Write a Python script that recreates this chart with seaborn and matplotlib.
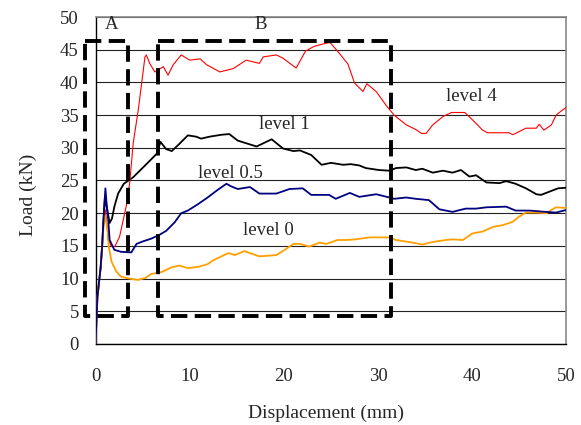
import numpy as np
import pandas as pd
import matplotlib
matplotlib.use("Agg")
import matplotlib.pyplot as plt
import seaborn as sns

# level 4 (red)
x_l4 = [0, 0.1, 0.2, 0.4, 0.55, 0.7, 0.85, 1.05, 1.35, 1.7, 2.05, 2.55, 3.1, 3.4, 3.66,
        4.0, 4.54, 4.9, 5.25, 5.4, 5.75, 6.3, 7.2, 7.7, 8.25, 9.1, 10.0, 11.1, 11.8, 13.2,
        14.6, 16.0, 17.4, 17.8, 19.2, 19.9, 21.3, 22.3, 23.2, 24.5, 24.9, 25.8, 26.8, 27.5,
        28.4, 28.8, 29.8, 30.9, 31.7, 33.0, 34.0, 34.6, 35.1, 35.8, 36.9, 37.8, 39.2, 40.0,
        41.1, 41.6, 43.9, 44.3, 45.7, 46.8, 47.1, 47.6, 48.4, 48.9, 49.6, 50]
y_l4 = [0, 3.7, 7.2, 9.8, 11.8, 14.9, 19, 20.5, 15.9, 14.9, 14.9, 16.4, 20, 22, 25.1,
        30.7, 35.8, 39.9, 43.9, 44.2, 42.9, 41.6, 42.4, 41.1, 42.7, 44.2, 43.4, 43.6, 42.7, 41.6,
        42.1, 43.4, 42.9, 43.9, 44.2, 43.7, 42.2, 44.8, 45.5, 46.0, 46.1, 44.6, 42.8, 39.9,
        38.6, 39.8, 38.6, 36.4, 35.0, 33.5, 32.8, 32.2, 32.2, 33.5, 34.8, 35.4, 35.4, 34.3,
        32.7, 32.3, 32.3, 32.0, 33.0, 33.0, 33.6, 32.7, 33.5, 35.0, 35.8, 36.2]

# level 1 (black)
x_l1 = [0, 0.1, 0.2, 0.4, 0.55, 0.7, 0.85, 1.0, 1.5, 1.75, 2.0, 2.4, 3.0, 3.5, 4.0, 4.7,
        5.75, 6.5, 6.9, 7.5, 8.1, 8.9, 9.8, 10.7, 11.2, 12.1, 13.4, 14.2, 15.1, 17.1, 18.7,
        19.9, 21.0, 21.7, 22.9, 24.0, 25.0, 26.3, 27.1, 28.0, 28.7, 30.1, 31.2, 31.9, 33.0,
        34.0, 34.7, 35.8, 36.9, 37.9, 38.8, 39.7, 40.4, 41.5, 42.9, 43.6, 44.6, 45.7, 46.8,
        47.3, 48.2, 49.1, 50]
y_l1 = [0, 3.7, 7.2, 9.8, 11.8, 14.9, 19, 22.5, 18.5, 19.2, 21, 23, 24.5, 25, 25.5, 26.5,
        28, 29.1, 30.9, 29.8, 29.5, 30.6, 31.9, 31.7, 31.4, 31.7, 32.0, 32.1, 31.1, 30.2, 31.3,
        29.9, 29.5, 29.6, 28.9, 27.4, 27.7, 27.4, 27.5, 27.3, 26.9, 26.6, 26.5, 26.9, 27.0,
        26.6, 26.8, 26.2, 26.5, 26.2, 26.6, 25.6, 25.8, 24.7, 24.6, 24.9, 24.5, 23.8, 22.9,
        22.8, 23.3, 23.8, 23.9]

# level 0.5 (navy)
x_l05 = [0, 0.1, 0.2, 0.4, 0.55, 0.7, 0.85, 1.05, 1.2, 1.35, 1.5, 2.0, 2.7, 3.8, 4.35,
         5.05, 5.9, 6.8, 7.5, 8.4, 9.1, 9.8, 10.9, 11.9, 13.0, 13.9, 14.4, 15.1, 16.4, 17.4,
         19.2, 20.6, 22.0, 22.9, 24.8, 25.5, 27.0, 28.0, 29.8, 31.2, 31.7, 33.0, 34.0, 35.4,
         36.5, 37.9, 39.3, 40.4, 41.5, 43.6, 44.6, 46.1, 47.8, 48.9, 50]
y_l05 = [0, 3.7, 7.2, 9.8, 11.8, 14.9, 19, 23.8, 21, 19, 15.9, 14.4, 14.1, 14.0, 15.3,
         15.7, 16.1, 16.7, 17.3, 18.6, 20.0, 20.4, 21.4, 22.4, 23.6, 24.5, 24.1, 23.7, 24.0, 23.0,
         23.0, 23.7, 23.8, 22.8, 22.8, 22.2, 23.1, 22.5, 22.9, 22.4, 22.2, 22.4, 22.2, 22.0,
         20.6, 20.2, 20.7, 20.7, 20.9, 21.0, 20.4, 20.4, 20.2, 20.1, 20.5]

# level 0 (orange)
x_l0 = [0, 0.1, 0.2, 0.4, 0.55, 0.7, 0.85, 1.0, 1.3, 1.4, 1.7, 2.2, 2.7, 3.6, 4.5, 5.3,
        5.9, 7.0, 8.05, 8.9, 9.8, 10.9, 11.9, 12.5, 14.1, 14.8, 15.8, 17.4, 19.2, 20.3, 21.0,
        21.7, 22.7, 23.8, 24.5, 25.7, 26.6, 27.6, 29.1, 31.2, 31.9, 33.7, 34.7, 35.8, 37.2,
        37.9, 39.0, 40.0, 41.1, 42.2, 43.3, 44.3, 45.0, 45.7, 46.8, 47.9, 48.4, 48.9, 50]
y_l0 = [0, 3.7, 7.2, 9.8, 11.8, 14.9, 18, 19.6, 17.4, 14.9, 12.6, 11.1, 10.3, 10.0, 9.8, 10.1,
        10.7, 11.0, 11.7, 12.0, 11.6, 11.8, 12.2, 12.8, 13.9, 13.6, 14.2, 13.4, 13.6, 14.6, 15.3,
        15.3, 14.9, 15.5, 15.3, 15.9, 15.9, 16.0, 16.3, 16.3, 15.9, 15.5, 15.2, 15.6, 15.9,
        16.0, 15.9, 16.9, 17.2, 17.9, 18.2, 18.7, 19.5, 20.1, 20.1, 20.0, 20.5, 20.9, 20.8]

# dashed regions A and B (left, right, bottom, top)
box_a = [-1.1, 3.5, 4.3, 46.4]
box_b = [6.65, 31.4, 4.3, 46.4]

x_ticks = [0, 10, 20, 30, 40, 50]
y_ticks = [0, 5, 10, 15, 20, 25, 30, 35, 40, 45, 50]

sns.set_style("white")
plt.rcParams['font.family'] = ['Liberation Serif', 'DejaVu Serif']

fig = plt.figure(figsize=(5.81, 4.25), dpi=100)
ax = fig.add_axes([0.1644, 0.1906, 0.8106, 0.7694])

series = [
    (x_l1, y_l1, 'black', 1.3),
    (x_l4, y_l4, '#ff0000', 0.8),
    (x_l0, y_l0, '#ffa000', 1.3),
    (x_l05, y_l05, '#000080', 1.3),
]
for xs, ys, col, lw in series:
    df = pd.DataFrame({'Displacement': xs, 'Load': ys})
    sns.lineplot(data=df, x='Displacement', y='Load', ax=ax, color=col,
                 linewidth=lw, estimator=None, sort=False, zorder=3)

for left, right, bottom, top in [box_a, box_b]:
    ax.plot([left, right, right, left, left], [top, top, bottom, bottom, top],
            color='black', linewidth=2.8, linestyle=(0, (4.2, 1.9)),
            clip_on=False, zorder=4)

ax.set_xlim(0, 50)
ax.set_ylim(0, 50)
ax.set_xticks(x_ticks)
ax.set_yticks(y_ticks)
ax.yaxis.grid(True, color='#222222', linewidth=0.8)
ax.xaxis.grid(False)
ax.set_axisbelow(True)

ax.tick_params(axis='x', direction='in', length=5, width=0.8, color='#444444',
               labelsize=13.5, pad=17)
ax.tick_params(axis='y', length=0, labelsize=13.5, pad=12)

for side in ['left', 'bottom']:
    ax.spines[side].set_color('black')
    ax.spines[side].set_linewidth(1.0)
for side in ['top', 'right']:
    ax.spines[side].set_color('#888888')
    ax.spines[side].set_linewidth(1.2)

ax.set_xlabel('Displacement (mm)', fontsize=14)
ax.set_ylabel('Load (kN)', fontsize=14)
ax.xaxis.set_label_coords(0.49, -0.185)
ax.yaxis.set_label_coords(-0.125, 0.455)

ax.text(1.72, 48.8, 'A', fontsize=13.5, ha='center', va='center')
ax.text(17.55, 48.8, 'B', fontsize=13.5, ha='center', va='center')
ax.text(20.1, 33.5, 'level 1', fontsize=13.5, ha='center', va='center')
ax.text(14.3, 26.1, 'level 0.5', fontsize=13.5, ha='center', va='center')
ax.text(18.4, 17.4, 'level 0', fontsize=13.5, ha='center', va='center')
ax.text(39.9, 37.9, 'level 4', fontsize=13.5, ha='center', va='center')

fig.savefig('out.png', dpi=100)
